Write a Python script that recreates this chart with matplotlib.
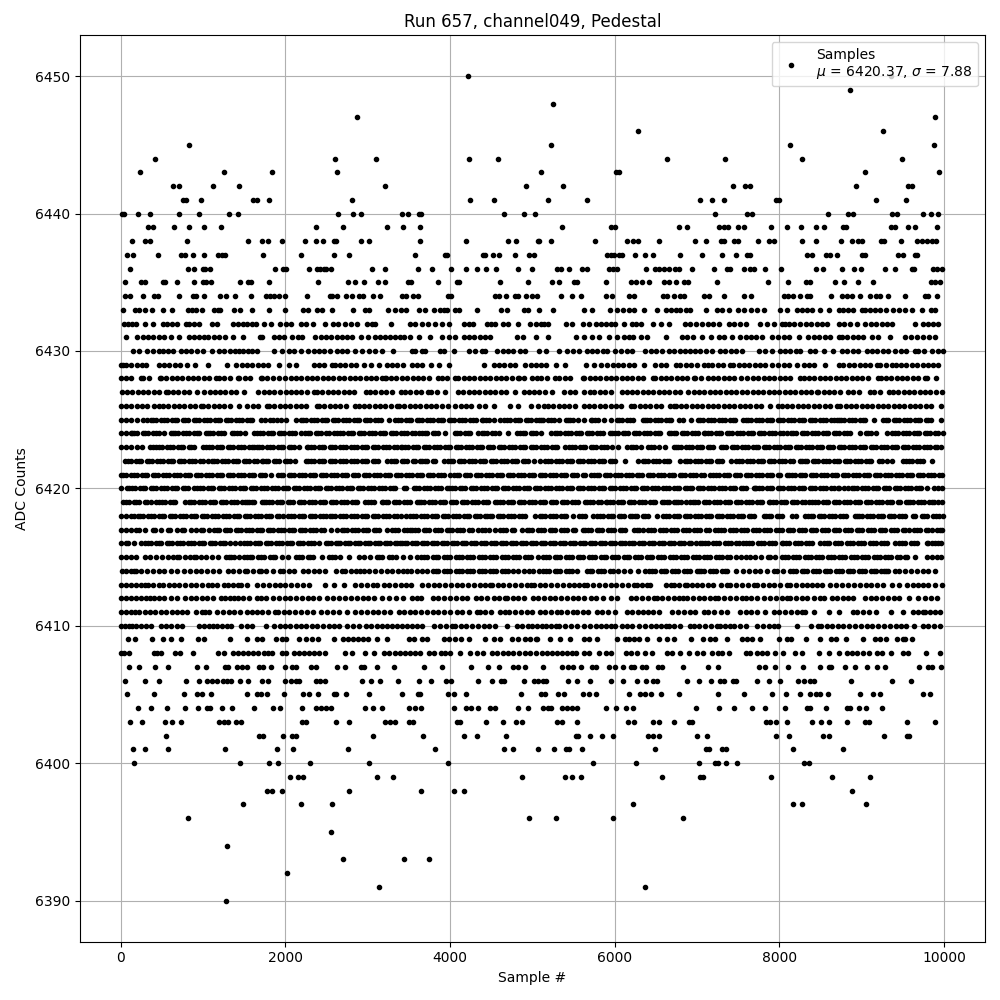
import matplotlib
matplotlib.use("Agg")
import matplotlib.pyplot as plt

# Sample numbers, one list per ADC count
adc_6390 = [1285]
adc_6391 = [3139, 6364]
adc_6392 = [2024]
adc_6393 = [2703, 3442, 3745]
adc_6394 = [1297]
adc_6395 = [2557]
adc_6396 = [812, 4957, 5285, 5976, 6836]
adc_6397 = [1491, 2194, 2570, 6218, 8169, 8279, 9054]
adc_6398 = [1782, 1842, 1963, 2775, 3648, 4052, 4169, 8885]
adc_6399 = [2060, 2157, 2218, 3115, 3309, 4872, 5394, 5483, 5588, 6570, 7042, 7075, 7903, 8642, 9103]
adc_6400 = [158, 1454, 1806, 1915, 2303, 3018, 3975, 5733, 6255, 7030, 7224, 7252, 7349, 7491, 8303, 8367]
adc_6401 = [145, 291, 570, 1273, 1903, 2097, 2763, 3818, 4654, 4763, 5066, 5261, 5406, 5447, 5600, 6485, 7115, 7143, 7305, 7357, 8169, 8775]
adc_6402 = [545, 1681, 1729, 1976, 2085, 2125, 3066, 3672, 4169, 4327, 4678, 5527, 5556, 5697, 5842, 5976, 6404, 6469, 6545, 7002, 7127, 7963, 8121, 8537, 8598, 9272, 9547, 9576]
adc_6403 = [109, 254, 533, 622, 731, 1196, 1256, 1309, 1406, 1458, 2198, 2246, 2618, 2775, 3216, 3277, 3329, 3499, 3555, 4085, 4125, 4436, 4642, 4800, 4872,
            5297, 5366, 5539, 6158, 6230, 6461, 6533, 6727, 6909, 6941, 7842, 7883, 7963, 8097, 8400, 8509, 8610, 8824, 9042, 9090, 9551, 9891]
adc_6404 = [206, 364, 558, 776, 945, 1054, 1087, 1236, 1357, 1624, 1854, 1939, 2206, 2376, 2428, 2497, 2549, 2973, 3066, 3175, 3499, 3571, 3648, 4052, 4194, 4258, 4339, 4489, 4549, 4824, 4945,
            5135, 5190, 5232, 5366, 5420, 5480, 5540, 5891, 6012, 6133, 6218, 6994, 7273, 7454, 7673, 7830, 8072, 8335, 8375, 8570, 8820, 8860, 8970, 9054, 9248]
adc_6405 = [73, 400, 764, 933, 986, 1091, 1531, 1660, 1701, 1782, 1988, 2218, 2291, 2400, 2590, 2618, 2731, 3018, 3418, 3612, 3640, 3975, 4052, 4194, 4860,
            5103, 5152, 5313, 5386, 5616, 5690, 5770, 6170, 6303, 6370, 6444, 6558, 6788, 7260, 7576, 7915, 8085, 8254, 8376, 8449, 8497, 8594, 8981, 9139, 9224, 9745, 9830]
adc_6406 = [48, 291, 461, 788, 957, 1054, 1115, 1175, 1240, 1297, 1345, 1454, 1551, 1721, 1794, 1992, 2072, 2133, 2165, 2376, 2420, 2485, 2933, 3042, 3147, 3369, 3624, 3769, 3951, 4016, 4339, 4509, 4622, 4662, 4896,
            5018, 5070, 5125, 5165, 5439, 5548, 5697, 5952, 6101, 6267, 6376, 6469, 6517, 6881, 7030, 7176, 7285, 7325, 7434, 7475, 7733, 7871, 8012, 8230, 8303, 8375, 8416, 8873, 9370, 9600]
adc_6407 = [97, 226, 412, 570, 933, 1042, 1265, 1305, 1418, 1479, 1539, 1681, 1729, 1830, 2000, 2085, 2125, 2307, 2376, 2630, 2727, 2925, 2957, 3115, 3321, 3684, 3903, 4258, 4460, 4590, 4771, 4832, 4913,
            5135, 5366, 5430, 5490, 5588, 5729, 5770, 5931, 6000, 6101, 6194, 6234, 6335, 6376, 6530, 6578, 6836, 7139, 7260, 7757, 7830, 7951, 8109, 8291, 8497, 8598, 8630, 8800, 8921, 9070, 9191, 9285, 9697, 9810, 9850, 9963]
adc_6408 = [4, 44, 105, 408, 445, 490, 659, 719, 873, 1188, 1256, 1370, 1430, 1490, 1550, 1610, 1670, 1735, 1790, 1834, 1955, 2012, 2105, 2165, 2225, 2285, 2345, 2405, 2480, 2719, 2812, 2973, 3078, 3204, 3265,
            3329, 3390, 3450, 3510, 3570, 3640, 3741, 3800, 3895, 3935, 4004, 4125, 4238, 4327, 4400, 4509, 4569, 4640, 4710, 4763, 4840, 4913, 4975, 5040, 5120, 5180, 5240, 5300, 5360, 5420, 5480, 5527,
            5628, 5690, 5810, 5891, 5952, 6133, 6195, 6275, 6364, 6456, 6638, 6700, 6800, 6900, 7002, 7070, 7184, 7250, 7310, 7386, 7596, 7648, 7730, 7790, 7850, 7950, 8050, 8185, 8275, 8477, 8606,
            8720, 8820, 8880, 8950, 9020, 9090, 9184, 9244, 9356, 9505, 9558, 9785, 9950]
adc_6409 = [85, 178, 376, 509, 610, 727, 945, 1006, 1333, 1539, 1660, 1713, 1883, 1963, 2004, 2170, 2254, 2320, 2400, 2594, 2703, 2760, 2820, 2880, 2940, 3010, 3115, 3236, 3499, 3560, 3660, 3720,
            3923, 3990, 4060, 4130, 4226, 4424, 4533, 4610, 4751, 4824, 4913, 4975, 5040, 5060, 5212, 5333, 5455, 5628, 5690, 5790, 6024, 6120, 6180, 6240, 6300, 6395, 6545, 6642, 6720, 6933, 7075, 7164, 7224,
            7370, 7547, 7610, 7670, 7770, 7992, 8093, 8145, 8323, 8497, 8626, 8690, 8812, 9018, 9163, 9224, 9297, 9426, 9500, 9527, 9616]
adc_6410 = [0, 50, 95, 135, 190, 250, 310, 370, 490, 550, 610, 680, 750, 955, 1010, 1070, 1125, 1175, 1235, 1290, 1335, 1465, 1530, 1600, 1770, 1860, 1940, 1995, 2060, 2125, 2190, 2250, 2320, 2390, 2460, 2530, 2590, 2650,
            2750, 2820, 2890, 2975, 3040, 3110, 3170, 3235, 3295, 3360, 3420, 3480, 3540, 3600, 3660, 3800, 3880, 3950, 4025, 4065, 4130, 4200, 4270, 4340, 4410, 4480, 4550, 4690, 4810, 4880, 4950, 4995, 5060, 5120, 5170,
            5225, 5290, 5330, 5400, 5470, 5540, 5630, 5700, 5770, 5830, 5900, 5950, 6000, 6090, 6150, 6210, 6290, 6375, 6440, 6500, 6560, 6620, 6660, 6720, 6800, 6920, 6960, 7030, 7100, 7170, 7240, 7280, 7340, 7400, 7450,
            7520, 7590, 7730, 7800, 7870, 7930, 7990, 8210, 8390, 8470, 8510, 8580, 8640, 8710, 8780, 8850, 8920, 8990, 9060, 9130, 9200, 9270, 9350, 9420, 9480, 9540, 9635, 9750, 9810, 9880, 9950]
adc_6411 = [0, 60, 120, 175, 225, 295, 355, 420, 490, 550, 620, 690, 750, 800, 920, 990, 1030, 1075, 1175, 1240, 1310, 1380, 1450, 1540, 1590, 1650, 1720, 1790, 1880, 1910, 1980, 2050, 2120, 2190, 2260, 2330, 2430,
            2510, 2580, 2650, 2750, 2850, 2920, 2990, 3060, 3130, 3200, 3275, 3375, 3440, 3510, 3580, 3650, 3720, 3790, 3860, 3930, 4000, 4085, 4145, 4235, 4325, 4365, 4430, 4500, 4610, 4670,
            4720, 4790, 4860, 4930, 5000, 5090, 5160, 5230, 5300, 5345, 5420, 5490, 5540, 5610, 5680, 5790, 5850, 5920, 6000, 6145, 6210, 6280, 6350, 6400, 6470, 6535,
            6700, 6770, 6840, 6910, 6980, 7080, 7140, 7210, 7290, 7365, 7520, 7590, 7660, 7730, 7830, 7930, 8000, 8070, 8140, 8210, 8275, 8315, 8425, 8605, 8730, 8890, 8950, 9020, 9085, 9175, 9355, 9500, 9630, 9690, 9750, 9770, 9830, 9890, 9950]
adc_6412 = [0, 65, 130, 190, 250, 310, 350, 410, 470, 530, 610, 690, 785, 850, 920, 985, 1050, 1120, 1215, 1265, 1330, 1380, 1420, 1490, 1560, 1660, 1700, 1770, 1850, 1920, 1990, 2060, 2130, 2200, 2270, 2330, 2415,
            2510, 2580, 2650, 2720, 2800, 2870, 2940, 3010, 3075, 3175, 3260, 3340, 3430, 3540, 3600, 3650, 3790, 3860, 3930, 4000, 4070, 4140, 4210, 4310, 4380, 4450, 4530, 4600, 4670, 4690, 4760, 4830, 4900, 5010,
            5075, 5140, 5210, 5280, 5350, 5420, 5490, 5560, 5630, 5710, 5770, 5860, 5950, 6025, 6195, 6260, 6330, 6400, 6480, 6510, 6580, 6650, 6720, 6780, 6830, 6880, 6950, 7020, 7090, 7160, 7220, 7250, 7330, 7405, 7480,
            7550, 7600, 7660, 7730, 7820, 7890, 7960, 8030, 8090, 8125, 8200, 8270, 8335, 8425, 8490, 8545, 8640, 8700, 8770, 8830, 8890, 9040, 9110, 9180, 9250, 9320, 9390, 9450, 9570, 9680, 9770, 9840, 9910]
adc_6413 = [5, 70, 130, 190, 250, 295, 330, 395, 460, 520, 590, 650, 710, 780, 850, 920, 990, 1060, 1115, 1175, 1255, 1300, 1360, 1420, 1460, 1540, 1660, 1730, 1800, 1870, 1930, 2000, 2070, 2140, 2210, 2285, 2480, 2590, 2710,
            2850, 2920, 2990, 3060, 3115, 3195, 3260, 3330, 3400, 3470, 3525, 3660, 3730, 3800, 3870, 3940, 4010, 4080, 4150, 4220, 4290, 4360, 4430, 4490, 4510, 4580, 4650, 4720, 4790, 4860, 4930, 4990,
            5020, 5090, 5160, 5230, 5300, 5370, 5440, 5510, 5570, 5630, 5670, 5740, 5810, 5880, 5950, 6020, 6090, 6160, 6230, 6270, 6335, 6390, 6435, 6620, 6680, 6720, 6780, 6860, 6880, 6940, 7000, 7060, 7130, 7200, 7290, 7365,
            7405, 7480, 7550, 7620, 7690, 7730, 7800, 7870, 7940, 8010, 8090, 8130, 8200, 8270, 8340, 8400, 8455, 8515, 8620, 8690, 8760, 8840, 8910, 8980, 9050, 9120, 9190, 9260, 9365, 9460, 9550, 9620, 9690, 9750, 9810, 9890, 9980]
adc_6414 = [10, 70, 120, 165, 185, 250, 320, 390, 460, 530, 610, 690, 770, 840, 910, 980, 1050, 1120, 1190, 1300, 1370, 1440, 1510, 1540, 1610, 1680, 1700, 1770, 1850, 1940, 1970, 2040, 2110, 2210, 2280, 2350, 2410, 2480,
            2610, 2690, 2730, 2800, 2860, 2910, 2950, 3020, 3090, 3160, 3230, 3300, 3370, 3430, 3480, 3530, 3600, 3660, 3720, 3790, 3860, 3930, 4000, 4070, 4140, 4210, 4280, 4350, 4420, 4490, 4560, 4630, 4700, 4770,
            4830, 4900, 4960, 5010, 5080, 5130, 5200, 5270, 5340, 5410, 5480, 5540, 5660, 5730, 5800, 5870, 5940, 6040, 6110, 6190, 6280, 6370, 6420, 6490, 6560, 6630, 6700, 6770, 6840, 6910, 7000, 7020, 7090, 7160, 7230, 7300, 7370, 7470,
            7560, 7630, 7700, 7770, 7850, 7930, 7970, 8050, 8130, 8200, 8270, 8340, 8410, 8480, 8550, 8620, 8690, 8760, 8830, 8900, 8970, 9040, 9110, 9180, 9240, 9300, 9320, 9410, 9460, 9530, 9600, 9670, 9740, 9810, 9890,
            3825, 3965, 4105, 4245, 4385, 4525, 4665, 6455, 6595, 6735, 6875, 7055, 7195, 7335, 8165, 8305, 8445, 8585, 8725, 8865, 9005, 9145, 9275, 5165, 5305, 5445, 5695, 5835, 5975]
adc_6415 = [0, 60, 125, 185, 295, 360, 430, 500, 570, 630, 690, 710, 780, 840, 890, 920, 975, 1040, 1110, 1180, 1280, 1310, 1380, 1440, 1500, 1530, 1600, 1670, 1740, 1810, 1880, 1960, 2035, 2130, 2200, 2270, 2340, 2450,
            2535, 2600, 2670, 2770, 2890, 2960, 3030, 3110, 3180, 3260, 3340, 3430, 3510, 3600, 3650, 3720, 3790, 3860, 3930, 4000, 4070, 4140, 4210, 4280, 4350, 4420, 4490, 4560, 4630, 4700, 4770, 4840, 4910, 4980, 5070,
            5130, 5200, 5270, 5340, 5410, 5480, 5550, 5620, 5690, 5760, 5830, 5900, 5970, 6040, 6110, 6180, 6250, 6320, 6390, 6460, 6530, 6600, 6670, 6740, 6810, 6880, 6950, 7020, 7090, 7160, 7230, 7300, 7370, 7470,
            7530, 7590, 7650, 7710, 7780, 7860, 7890, 7950, 8030, 8100, 8170, 8240, 8310, 8380, 8450, 8520, 8590, 8660, 8730, 8800, 8870, 8940, 9010, 9080, 9150, 9220, 9290, 9360, 9430, 9530, 9550, 9650, 9790, 9850, 9910, 9970,
            3685, 3825, 3965, 4105, 4245, 4385, 4525, 4665, 4805, 4945, 5165, 5305, 5445, 5585, 5725, 5865, 6005, 6145, 6285, 6425, 6565, 6705, 6845, 6985, 7125, 7265, 7405,
            8065, 8205, 8345, 8485, 8625, 8765, 8905, 9045, 9185, 9325, 9465, 1342, 1565, 1705, 1845, 2165, 2305, 2565, 3135, 3300]
adc_6416 = [0, 65, 85, 165, 245, 300, 365, 430, 495, 560, 625, 690, 755, 820, 885, 950, 1015, 1080, 1145, 1210, 1270, 1330, 1390, 1450, 1500, 1565, 1630, 1695, 1760, 1825, 1890, 1955, 2020, 2085, 2150, 2215, 2280, 2345, 2410,
            2495, 2550, 2610, 2670, 2730, 2790, 2850, 2910, 2970, 3030, 3090, 3150, 3210, 3270, 3330, 3390, 3420, 3480, 3540, 3600, 3660, 3720, 3780, 3840, 3900, 3960, 4020, 4080, 4140, 4200, 4260, 4320, 4380, 4440, 4500, 4560,
            4620, 4680, 4740, 4800, 4860, 4920, 4980, 5040, 5100, 5160, 5220, 5280, 5340, 5400, 5460, 5520, 5580, 5640, 5700, 5760, 5820, 5880, 5940, 6000, 6060, 6120, 6180, 6240, 6300, 6360, 6420, 6480, 6540, 6600, 6660, 6720, 6780, 6840, 6900,
            6930, 6990, 7040, 7060, 7130, 7200, 7270, 7340, 7410, 7480, 7560, 7600, 7670, 7740, 7810, 7880, 7950, 8030, 8050, 8120, 8190, 8260, 8330, 8400, 8500, 8540, 8610, 8680, 8750, 8820, 8890, 8960, 9030, 9100, 9170, 9240, 9310, 9410,
            9460, 9530, 9600, 9670, 9790, 9810, 9890, 9970,
            332, 462, 592, 722, 852, 982, 1112, 1242, 1532, 1662, 1792, 1922, 2052, 2182, 2312, 2522, 2640, 2760, 2880, 3000, 3120, 3240, 3360, 3450, 3570, 3690, 3810, 3930, 4050, 4170, 4290, 4410, 4530, 4650, 4770, 4890,
            5010, 5130, 5250, 5370, 5490, 5610, 5730, 5850, 5970, 6090, 6210, 6330, 6450, 6570, 6690, 6810, 7095, 7235, 7375, 7515, 7635, 7775, 7915, 8085, 8225, 8365, 8575, 8715, 8855, 8995, 9135, 9275, 9495, 9635, 9850, 9930]
adc_6417 = [0, 60, 120, 185, 225, 300, 390, 415, 490, 580, 600, 680, 750, 770, 850, 910, 970, 1000, 1075, 1135, 1200, 1265, 1330, 1395, 1460, 1525, 1590, 1655, 1720, 1785, 1850, 1915, 1980, 2045, 2110, 2175, 2240, 2305, 2370, 2435, 2550, 2625,
            2685, 2750, 2815, 2880, 2945, 3010, 3075, 3140, 3240, 3300, 3370, 3440, 3510, 3540, 3610, 3680, 3750, 3820, 3890, 3960, 4020, 4090, 4160, 4230, 4345, 4395, 4470, 4550, 4610, 4680, 4750, 4880,
            4930, 5000, 5070, 5140, 5210, 5280, 5350, 5420, 5490, 5610, 5640, 5710, 5780, 5850, 5920, 5990, 6060, 6130, 6240, 6270, 6340, 6410, 6480, 6550, 6620, 6690, 6760, 6830, 6900, 6970, 7040, 7110, 7220,
            7260, 7330, 7400, 7470, 7540, 7610, 7680, 7750, 7820, 7890, 7960, 8030, 8100, 8170, 8240, 8310, 8380, 8450, 8520, 8590, 8660, 8730, 8800, 8870, 8940, 9010, 9080, 9150, 9220, 9290, 9360, 9430, 9500, 9570, 9640, 9710, 9780, 9850, 9920, 9980,
            1167, 1297, 1427, 1557, 1687, 1817, 1947, 2077, 2207, 2337, 2467, 2717, 2847, 2977, 3107, 3332, 3472, 3572, 3712, 3852, 3992, 4122, 4262, 4427, 4642, 4782, 4962, 5102, 5242, 5382, 5522, 5672, 5812, 5952, 6092,
            6302, 6442, 6582, 6722, 6862, 7002, 7142, 7292, 7432, 7572, 7712, 7852, 7992, 8132, 8272, 8412, 8552, 8692, 8832, 8972, 9112, 9252, 9392, 9532, 9672, 9812, 9952]
adc_6418 = [0, 60, 120, 165, 205, 270, 335, 400, 465, 530, 595, 660, 725, 790, 855, 920, 985, 1050, 1115, 1180, 1245, 1310, 1375, 1440, 1505, 1570, 1635, 1700, 1765, 1830, 1895, 1970, 2035, 2100, 2165, 2230, 2295, 2360, 2425, 2490, 2540, 2600,
            2670, 2735, 2800, 2865, 2930, 2995, 3060, 3125, 3190, 3255, 3320, 3410, 3470, 3520, 3585, 3650, 3715, 3780, 3845, 3910, 3975, 4040, 4105, 4170, 4235, 4300, 4365, 4430, 4450, 4515, 4580, 4645, 4710, 4775, 4840, 4910, 5030,
            5090, 5155, 5220, 5285, 5350, 5415, 5500, 5570, 5640, 5740, 5790, 5855, 5920, 5985, 6050, 6115, 6190, 6210, 6275, 6340, 6405, 6520, 6590, 6655, 6720, 6785, 6850, 6915, 6980, 7045, 7110, 7175, 7240, 7305, 7370, 7435, 7500, 7565, 7630, 7695, 7810,
            7840, 7905, 7970, 8035, 8150, 8200, 8310, 8350, 8415, 8480, 8545, 8610, 8675, 8740, 8805, 8920, 8940, 9005, 9070, 9135, 9200, 9265, 9330, 9395, 9460, 9525, 9630, 9650, 9730, 9800, 9870, 9935, 9985,
            237, 367, 497, 627, 757, 887, 1017, 1147, 1277, 1407, 1537, 1667, 1797, 1927, 2067, 2197, 2327, 2457, 2567, 2702, 2832, 2962, 3092, 3222, 3352, 3552, 3682, 3812, 3942, 4072, 4202, 4332, 4482, 4612, 4742, 4872,
            5122, 5252, 5382, 5602, 5822, 5952, 6082, 6242, 6372, 6622, 6752, 6882, 7012, 7142, 7272, 7402, 7532, 7662, 7872, 8002, 8382, 8512, 8642, 8772, 8972, 9102, 9232, 9362, 9492, 9762, 9902]
adc_6419 = [30, 95, 160, 225, 290, 370, 430, 470, 535, 600, 665, 780, 825, 890, 955, 1020, 1085, 1150, 1215, 1280, 1345, 1410, 1475, 1540, 1560, 1625, 1740, 1770, 1835, 1900, 1965, 2030, 2095, 2160, 2225, 2290, 2355, 2420, 2485, 2550, 2615, 2680, 2745, 2810, 2875, 2970,
            3010, 3075, 3170, 3185, 3250, 3315, 3380, 3445, 3510, 3600, 3620, 3685, 3750, 3815, 3880, 3945, 4010, 4075, 4140, 4205, 4270, 4335, 4400, 4465, 4550, 4575, 4640, 4705, 4770, 4835, 4900, 4965, 5030, 5095, 5160, 5225, 5290, 5355, 5420, 5485, 5550, 5640,
            5670, 5735, 5800, 5890, 5910, 5975, 6040, 6105, 6170, 6235, 6300, 6365, 6430, 6495, 6570, 6600, 6665, 6720, 6740, 6805, 6870, 6920, 6950, 7015, 7080, 7145, 7210, 7275, 7340, 7405, 7470, 7535, 7600, 7665, 7730, 7795, 7870,
            7890, 7955, 8020, 8085, 8150, 8215, 8280, 8360, 8400, 8465, 8530, 8595, 8660, 8725, 8790, 8855, 8920, 8985, 9050, 9115, 9180, 9245, 9310, 9375, 9440, 9540, 9560, 9625, 9690, 9755, 9820, 9885, 9980,
            62, 192, 322, 502, 632, 857, 987, 1117, 1247, 1377, 1507, 1592, 1722, 1802, 1932, 2062, 2192, 2322, 2452, 2582, 2712, 2842, 3042, 3217, 3347, 3477, 3652, 3782, 3912, 4042, 4172, 4302, 4432, 4607, 4737, 4867,
            4997, 5127, 5257, 5387, 5517, 5702, 5832, 5942, 6072, 6202, 6332, 6462, 6632, 6772, 6982, 7112, 7242, 7372, 7502, 7632, 7762, 7922, 8052, 8182, 8312, 8432, 8562, 8692, 8822, 8952, 9082, 9212, 9342, 9472, 9592, 9722, 9852, 9930]
adc_6420 = [0, 80, 105, 170, 235, 300, 365, 430, 495, 560, 625, 690, 755, 820, 893, 930, 995, 1060, 1125, 1190, 1255, 1320, 1385, 1450, 1515, 1580, 1645, 1710, 1775, 1840, 1905, 1970, 2035, 2100, 2165, 2230, 2295, 2360, 2425, 2490, 2555, 2620, 2685, 2750, 2815, 2880, 2945, 3010, 3075, 3140, 3205, 3270, 3335, 3440, 3470,
            3560, 3625, 3690, 3755, 3820, 3885, 3960, 3990, 4055, 4120, 4185, 4250, 4315, 4380, 4445, 4510, 4575, 4640, 4705, 4770, 4835, 4900, 4965, 5030, 5095, 5160, 5225, 5290, 5355, 5420, 5485, 5550, 5615, 5680, 5745, 5810, 5875, 5940, 6005, 6070, 6135, 6200, 6265, 6330, 6395, 6460, 6525, 6590, 6655, 6720, 6785, 6860,
            6880, 6945, 7010, 7075, 7140, 7205, 7270, 7335, 7400, 7465, 7530, 7595, 7710, 7720, 7785, 7850, 7915, 7980, 8045, 8110, 8175, 8240, 8305, 8370, 8435, 8500, 8565, 8630, 8710, 8730, 8790, 8840, 8880, 8945, 9010, 9075, 9140, 9205, 9270, 9335, 9400, 9465, 9530, 9595, 9660, 9725, 9790, 9880, 9930, 9980,
            137, 267, 397, 527, 657, 787, 962, 1092, 1222, 1352, 1482, 1612, 1742, 1872, 2002, 2132, 2262, 2392, 2522, 2652, 2782, 2912, 3042, 3172, 3302, 3592, 3722, 3852, 4022, 4152, 4282, 4412, 4542, 4672, 4802, 4932,
            5062, 5192, 5322, 5452, 5582, 5712, 5842, 5972, 6102, 6232, 6362, 6492, 6622, 6752, 6912, 7042, 7172, 7302, 7432, 7562, 7692, 7752, 7882, 8012, 8142, 8272, 8402, 8532, 8662, 8912, 9042, 9172, 9302, 9432, 9562, 9692]
adc_6421 = [0, 65, 130, 195, 260, 325, 390, 455, 520, 585, 650, 715, 780, 845, 910, 975, 1040, 1105, 1170, 1235, 1300, 1365, 1430, 1495, 1560, 1625, 1690, 1755, 1820, 1910, 1975, 2040, 2105, 2170, 2235, 2300, 2365, 2430, 2495, 2560, 2625, 2690, 2755, 2820, 2885, 2950, 3015, 3080, 3145, 3210, 3275, 3340, 3405, 3470, 3535, 3600, 3665, 3730, 3795, 3860, 3925, 4000,
            4050, 4115, 4180, 4245, 4310, 4375, 4440, 4505, 4570, 4635, 4700, 4765, 4830, 4895, 4960, 5025, 5090, 5155, 5220, 5285, 5350, 5415, 5480, 5545, 5610, 5710, 5750, 5815, 5880, 5945, 6010, 6075, 6140, 6205, 6270, 6335, 6400, 6465, 6530, 6595, 6660, 6725, 6790, 6855, 6920, 6985, 7050, 7160,
            7200, 7265, 7330, 7395, 7460, 7525, 7590, 7655, 7720, 7785, 7850, 7915, 7980, 8090, 8120, 8185, 8250, 8315, 8380, 8445, 8510, 8575, 8640, 8705, 8770, 8835, 8900, 8965, 9030, 9095, 9160, 9225, 9290, 9355, 9420, 9485, 9550, 9615, 9680, 9745, 9810, 9875, 9940, 9980,
            32, 162, 292, 422, 552, 682, 812, 942, 1072, 1202, 1332, 1462, 1592, 1722, 1942, 2072, 2202, 2332, 2462, 2592, 2722, 2852, 2982, 3112, 3242, 3372, 3502, 3632, 3762, 3892, 4082, 4212, 4342, 4472, 4602, 4732, 4862, 4992,
            5122, 5252, 5382, 5512, 5642, 5782, 5912, 6042, 6172, 6302, 6432, 6562, 6692, 6822, 6952, 7082, 7232, 7362, 7492, 7622, 7752, 7882, 8012, 8152, 8282, 8412, 8542, 8672, 8802, 8932, 9062, 9192, 9322, 9452, 9582, 9712, 9842]
adc_6422 = [55, 120, 185, 250, 315, 380, 445, 510, 575, 640, 705, 770, 835, 900, 965, 1055, 1105, 1170, 1235, 1300, 1365, 1430, 1495, 1560, 1625, 1715, 1730, 1795, 1860, 1925, 1990, 2055, 2120, 2245, 2280, 2345, 2410, 2475, 2540, 2605, 2670, 2735, 2800, 2865, 2930, 2995, 3060, 3125, 3235,
            3285, 3350, 3415, 3480, 3545, 3630, 3660, 3725, 3790, 3925, 3975, 4040, 4105, 4170, 4235, 4300, 4365, 4430, 4495, 4560, 4625, 4690, 4755, 4820, 4885, 4950, 5020, 5090, 5160, 5225, 5290, 5355, 5420, 5485, 5550, 5615, 5680, 5745, 5810, 5875, 5940, 6005, 6130,
            6280, 6340, 6405, 6470, 6535, 6600, 6665, 6790, 6850, 6915, 6980, 7045, 7110, 7175, 7240, 7305, 7410, 7480, 7545, 7610, 7675, 7740, 7805, 7870, 7935, 8000, 8065, 8130, 8255, 8275, 8340, 8405, 8470, 8535, 8600, 8665, 8730, 8795, 8860, 8925, 8990, 9055, 9120, 9215,
            9245, 9310, 9375, 9505, 9545, 9610, 9675, 9740, 9860,
            87, 217, 347, 477, 607, 737, 867, 997, 1137, 1267, 1397, 1527, 1657, 1762, 1892, 2022, 2312, 2442, 2572, 2702, 2832, 2962, 3092, 3317, 3447, 3577, 3692, 3822, 4007, 4137, 4267, 4397, 4527, 4657, 4787, 4917,
            5190, 5322, 5452, 5582, 5712, 5842, 5972, 6372, 6502, 6632, 6882, 7012, 7142, 7272, 7512, 7642, 7772, 7902, 8032, 8162, 8307, 8437, 8567, 8697, 8827, 8957, 9087, 9577, 9707]
adc_6423 = [0, 65, 130, 195, 260, 355, 395, 435, 500, 565, 630, 695, 760, 825, 890, 1000, 1040, 1105, 1170, 1235, 1300, 1365, 1430, 1495, 1560, 1620, 1650, 1715, 1780, 1845, 1910, 1975, 2040, 2105, 2170, 2265, 2280, 2345, 2410, 2475, 2540, 2605, 2670, 2735, 2800, 2865, 2930, 2995, 3060, 3125, 3190, 3255, 3320, 3400,
            3420, 3485, 3550, 3615, 3680, 3745, 3810, 3875, 3940, 4005, 4070, 4135, 4200, 4265, 4330, 4395, 4460, 4525, 4590, 4655, 4720, 4785, 4850, 4915, 4980, 5045, 5110, 5175, 5240, 5305, 5400, 5450, 5515, 5580, 5645, 5710, 5775, 5840, 5905, 5970, 6035, 6150,
            6195, 6260, 6325, 6400, 6445, 6480, 6545, 6610, 6720, 6740, 6805, 6870, 6935, 7000, 7065, 7130, 7200, 7290, 7355, 7420, 7485, 7550, 7615, 7680, 7745, 7810, 7875, 7940, 8005, 8070, 8135, 8200, 8265, 8330, 8395, 8460, 8525, 8590, 8655, 8720, 8785, 8850, 8915, 8980, 9045, 9110, 9175, 9240, 9305, 9370, 9435, 9500, 9565, 9630, 9695, 9760, 9825, 9890, 9960,
            467, 597, 727, 857, 1072, 1202, 1332, 1462, 1592, 1682, 1812, 1942, 2072, 2312, 2442, 2572, 2702, 2832, 2962, 3092, 3222, 3352, 3452, 3582, 3712, 3842, 3972, 4102, 4232, 4362, 4492, 4622, 4752, 4882, 5012, 5142, 5272,
            5482, 5612, 5742, 5872, 6227, 6772, 6902, 7032, 7162, 7322, 7452, 7582, 7712, 7842, 7972, 8102, 8232, 8362, 8492, 8622, 8752, 8882, 9012, 9142, 9272, 9402, 9532, 9662, 9792, 9922]
adc_6424 = [0, 60, 125, 135, 200, 265, 330, 395, 460, 525, 610, 630, 695, 760, 825, 890, 955, 1035, 1055, 1120, 1185, 1250, 1350, 1380, 1445, 1510, 1620, 1660, 1725, 1790, 1855, 1920, 1985, 2050, 2115, 2185, 2240, 2305, 2370, 2435, 2500, 2590, 2630, 2695, 2760, 2825, 2890, 2955, 3020, 3085, 3150, 3215, 3280, 3345, 3410, 3475, 3540, 3620, 3660, 3725, 3790, 3855, 3940,
            4055, 4120, 4185, 4245, 4345, 4385, 4450, 4515, 4595, 4705, 4810, 4850, 4915, 4980, 5045, 5110, 5230, 5270, 5335, 5400, 5465, 5530, 5595, 5660, 5725, 5790, 5855, 5945, 5970, 6035, 6100, 6165, 6230, 6295, 6360, 6425, 6490, 6555, 6660, 6685, 6750, 6815, 6880, 6945, 7010, 7080,
            7100, 7165, 7230, 7295, 7360, 7425, 7490, 7555, 7620, 7685, 7750, 7815, 7880, 7945, 8010, 8090, 8140, 8205, 8270, 8335, 8400, 8465, 8530, 8595, 8660, 8725, 8790, 8855, 8980, 9050, 9115, 9180, 9305, 9375, 9440, 9505, 9570, 9635, 9700, 9765, 9830, 9895, 9985,
            165, 295, 425, 662, 792, 922, 1087, 1217, 1412, 1692, 1822, 1952, 2082, 2272, 2402, 2532, 2662, 2792, 2922, 3052, 3182, 3312, 3442, 3572, 3692, 3822, 4087, 4217, 4417, 4547, 4882, 5012, 5302, 5432, 5562, 5692, 5822,
            6002, 6132, 6262, 6392, 6522, 6717, 6847, 6977, 7132, 7262, 7392, 7522, 7652, 7782, 7912, 8042, 8172, 8302, 8432, 8562, 8692, 8822, 9082, 9407, 9537, 9667, 9797, 9927]
adc_6425 = [0, 65, 130, 195, 265, 325, 365, 430, 495, 560, 625, 690, 755, 820, 885, 950, 1015, 1080, 1145, 1210, 1275, 1340, 1405, 1470, 1535, 1600, 1710, 1750, 1815, 1900, 1945, 2010, 2135, 2185, 2250, 2315, 2380, 2445, 2510, 2575, 2640, 2705, 2770, 2835, 2900, 2965, 3030, 3095, 3160, 3265,
            3335, 3400, 3465, 3530, 3595, 3660, 3725, 3790, 3855, 3920, 3985, 4050, 4115, 4180, 4245, 4310, 4385, 4405, 4470, 4535, 4610, 4660, 4725, 4790, 4855, 4920, 4985, 5050, 5110, 5130, 5195, 5260, 5325, 5410, 5430, 5495, 5560, 5625, 5710, 5730, 5795, 5865,
            5960, 6025, 6090, 6155, 6220, 6345, 6365, 6430, 6495, 6560, 6625, 6690, 6780, 6825, 6930, 7010, 7075, 7140, 7205, 7270, 7335, 7400, 7465, 7560, 7590, 7655, 7720, 7785, 7850, 7915, 7980, 8045, 8110, 8175, 8240, 8305, 8370, 8435, 8500, 8565, 8630, 8700,
            8720, 8785, 8850, 8915, 8980, 9045, 9155, 9260, 9325, 9390, 9455, 9520, 9585, 9650, 9715, 9780, 9845, 9960,
            397, 527, 657, 787, 917, 1047, 1177, 1307, 1437, 1567, 1847, 2217, 2347, 2477, 2607, 2737, 2867, 2997, 3127, 3367, 3497, 3627, 3757, 3887, 4017, 4147, 4277, 4437, 4692, 4822, 4952, 5082, 5227, 5462, 5762,
            6057, 6187, 6397, 6527, 6657, 7042, 7172, 7302, 7432, 7622, 7752, 7882, 8012, 8142, 8272, 8402, 8532, 8662, 8752, 8882, 9012, 9292, 9422, 9552, 9682, 9812]
adc_6426 = [0, 65, 130, 195, 260, 325, 410, 470, 515, 580, 645, 710, 775, 840, 905, 975, 1000, 1065, 1130, 1195, 1260, 1325, 1440, 1540, 1605, 1670, 1780, 1800, 1865, 1930, 1995, 2060, 2125, 2190, 2255, 2390, 2410, 2475, 2540, 2605, 2670, 2735, 2850, 2890, 2955, 3020, 3085, 3150, 3215, 3280, 3360,
            3380, 3445, 3510, 3575, 3640, 3705, 3770, 3835, 3900, 3975, 4065, 4130, 4195, 4260, 4350, 4430, 4530, 4730, 4830, 4990, 5070, 5140, 5190, 5255, 5320, 5385, 5450, 5515, 5625, 5690, 5755, 5820, 5885, 5950, 6015, 6080, 6200, 6240, 6305, 6370, 6435, 6500, 6565, 6670, 6720,
            6740, 6805, 6870, 6935, 7000, 7065, 7130, 7195, 7260, 7325, 7390, 7455, 7520, 7585, 7650, 7720, 7780, 7890, 7980, 8030, 8095, 8160, 8225, 8290, 8355, 8420, 8485, 8550, 8615, 8700, 8740, 8805, 8870, 8935, 9000, 9065, 9130, 9195, 9260, 9325, 9390, 9455, 9520, 9585, 9650, 9715, 9780, 9845, 9960]
adc_6427 = [10, 75, 140, 205, 270, 335, 400, 465, 555, 570, 635, 700, 765, 830, 930, 1015, 1080, 1145, 1205, 1270, 1335, 1400, 1500, 1670, 1735, 1800, 1865, 1930, 2010, 2065, 2130, 2195, 2260, 2345, 2385, 2450, 2515, 2580, 2645, 2710, 2775, 2840, 2980, 3030, 3095, 3160, 3225, 3290, 3400, 3455,
            3520, 3585, 3650, 3735, 3770, 3840, 3935, 4095, 4160, 4225, 4290, 4355, 4420, 4485, 4550, 4615, 4680, 4795, 4895, 4955, 5020, 5085, 5150, 5240, 5390, 5455, 5520, 5625, 5705, 5755, 5820, 5885, 5950, 6095, 6145, 6210, 6275, 6340, 6405, 6470, 6535, 6600, 6665, 6730, 6795, 6890,
            6960, 7025, 7090, 7155, 7225, 7285, 7350, 7415, 7480, 7545, 7610, 7675, 7740, 7805, 7870, 7935, 8000, 8065, 8130, 8195, 8260, 8325, 8390, 8455, 8475, 8540, 8605, 8670, 8735, 8840, 8900, 8965, 9100, 9155, 9220, 9330, 9380, 9445, 9510, 9575, 9640, 9705, 9770, 9835, 9900, 9980]
adc_6428 = [0, 65, 130, 245, 275, 340, 475, 490, 555, 620, 685, 750, 815, 880, 945, 1010, 1075, 1155, 1195, 1260, 1325, 1420, 1440, 1505, 1570, 1700, 1715, 1780, 1845, 1925, 1995, 2065, 2130, 2195, 2260, 2325, 2390, 2455, 2520, 2585, 2650, 2715, 2780, 2845, 2910, 2975, 3040, 3105, 3170, 3210, 3220, 3285, 3350, 3415, 3480, 3545, 3610, 3675, 3740, 3855,
            3900, 3965, 4065, 4095, 4165, 4230, 4295, 4360, 4425, 4490, 4555, 4620, 4685, 4750, 4825, 4840, 4905, 4995, 5055, 5110, 5175, 5270, 5330, 5395, 5460, 5610, 5630, 5695, 5760, 5825, 5890, 5955, 6020, 6085, 6150, 6215, 6280, 6345, 6470, 6495, 6560, 6625, 6690, 6755, 6820, 6885, 6960,
            6980, 7045, 7135, 7195, 7260, 7325, 7390, 7455, 7535, 7610, 7680, 7745, 7810, 7875, 7940, 8005, 8070, 8135, 8255, 8295, 8360, 8425, 8490, 8555, 8620, 8685, 8750, 8815, 8880, 8945, 9010, 9075, 9205, 9230, 9295, 9360, 9425, 9490, 9555, 9620, 9685, 9770, 9790, 9900]
adc_6429 = [0, 25, 65, 130, 195, 260, 305, 460, 525, 590, 655, 720, 810, 900, 1065, 1290, 1405, 1470, 1535, 1600, 1665, 1730, 1795, 1925, 2045, 2125, 2345, 2410, 2475, 2565, 2600, 2665, 2730, 2795, 2860, 2955, 3045, 3135, 3235, 3295, 3360, 3425, 3540, 3600, 3665, 3765, 3870, 3990, 4415, 4530, 4595, 4660, 4725, 4790, 4910, 4990,
            5040, 5105, 5170, 5285, 5400, 5650, 5745, 5830, 5910, 5975, 6040, 6105, 6170, 6235, 6355, 6495, 6560, 6625, 6750, 6800, 6865, 6930, 6995, 7080, 7135, 7185, 7250, 7315, 7405, 7440, 7505, 7570, 7635, 7700, 7765, 7830, 7910,
            7990, 8055, 8120, 8215, 8295, 8360, 8425, 8560, 8730, 8780, 8845, 8910, 8975, 9040, 9105, 9185, 9225, 9300, 9365, 9415, 9480, 9545, 9610, 9675, 9740, 9805, 9870, 9930]
adc_6430 = [145, 225, 320, 390, 460, 520, 570, 640, 730, 795, 860, 925, 995, 1110, 1195, 1260, 1325, 1390, 1440, 1480, 1545, 1600, 1660, 1860, 1955, 2045, 2105, 2185, 2280, 2345, 2410, 2475, 2540, 2630, 2690, 2755, 2850, 2930, 3015, 3095, 3175, 3310, 3540, 3580, 3660, 3700, 3880, 3930, 4050, 4225, 4300, 4390, 4430, 4570,
            4640, 4705, 4770, 4850, 4910, 5085, 5165, 5325, 5420, 5490, 5570, 5660, 5725, 5790, 5855, 5910, 6000, 6075, 6155, 6215, 6375, 6440, 6505, 6580, 6660, 6725, 6790, 6855, 6920, 6980, 7040, 7110, 7185, 7280, 7345, 7410, 7475, 7550, 7750, 7830, 7910,
            8010, 8075, 8135, 8200, 8255, 8375, 8440, 8540, 8650, 8760, 8825, 8890, 8960, 9060, 9125, 9190, 9255, 9320, 9405, 9475, 9540, 9650, 9690, 9755, 9850, 9930, 9985]
adc_6431 = [65, 195, 265, 330, 395, 465, 530, 610, 705, 825, 890, 955, 1015, 1065, 1135, 1200, 1265, 1360, 1490, 1695, 1720, 1860, 1925, 1985, 2085, 2150, 2205, 2355, 2430, 2495, 2560, 2625, 2690, 2750, 2815, 2915, 3005, 3085, 3155, 3215, 3275, 3335, 3390, 3440, 3515, 3625, 3760, 3905, 3985, 4065,
            4165, 4230, 4295, 4360, 4425, 4490, 4810, 4885, 5040, 5190, 5530, 5630, 5730, 5810, 5930, 6030, 6115, 6175, 6225, 6315, 6395, 6630, 6820, 6885, 6950, 7060, 7165, 7265, 7325, 7425, 7525, 7590, 7655, 7720, 7785, 7910,
            7990, 8055, 8120, 8235, 8355, 8420, 8485, 8550, 8615, 8720, 8760, 8825, 8890, 8955, 9020, 9125, 9205, 9345, 9525, 9600, 9670, 9750, 9815, 9890]
adc_6432 = [45, 90, 140, 185, 290, 390, 510, 560, 620, 690, 790, 830, 895, 955, 1105, 1175, 1360, 1420, 1480, 1540, 1600, 1640, 1745, 1820, 1940, 2010, 2065, 2185, 2255, 2340, 2480, 2580, 2640, 2730, 2800, 2870, 2995, 3050, 3095, 3285, 3520, 3580, 3660, 3730, 3820, 3900, 3985,
            4165, 4225, 4285, 4450, 4500, 4550, 4650, 4710, 4825, 4975, 5040, 5100, 5140, 5185, 5405, 5485, 5610, 5690, 5770, 5830, 5890, 5950, 6010, 6115, 6215, 6265, 6315, 6470, 6560, 6660, 6860, 6920, 6990, 7060, 7130, 7200, 7265, 7385, 7450, 7520, 7590, 7770, 7850, 7930,
            8030, 8070, 8115, 8180, 8250, 8320, 8390, 8460, 8520, 8575, 8720, 8790, 8860, 8940, 9040, 9110, 9180, 9250, 9310, 9365, 9650, 9750, 9810, 9870, 9930]
adc_6433 = [24, 170, 218, 291, 376, 509, 618, 812, 861, 909, 982, 1139, 1188, 1212, 1382, 1454, 1600, 1806, 2000, 2218, 2279, 2388, 2448, 2570, 2824, 2969, 3018, 3248, 3333, 3406, 3466, 3624, 3701, 3806, 3878, 3927, 3963, 4065, 4109, 4331, 4618, 4691, 4896, 4945,
            5083, 5249, 5628, 5730, 5943, 6032, 6100, 6170, 6240, 6355, 6517, 6618, 6680, 6740, 6800, 6870, 6921, 7115, 7244, 7300, 7386, 7495, 7567, 7656, 7729, 7810, 8012, 8093, 8214, 8280, 8340, 8400, 8500, 8598,
            8720, 8780, 8840, 8900, 9002, 9042, 9100, 9160, 9220, 9300, 9380, 9460, 9530, 9608, 9733, 9838, 9891]
adc_6434 = [48, 109, 267, 400, 448, 703, 873, 913, 1018, 1212, 1285, 1394, 1588, 1770, 1818, 1866, 1927, 2000, 2267, 2545, 2570, 2630, 2739, 2812, 2897, 2945, 3067, 3151, 3418, 3466, 3551, 3612, 3975, 4012, 4545, 4593, 4679, 4787, 4824, 4921, 4993, 5054,
            5346, 5479, 5588, 5895, 5972, 6174, 6234, 6590, 6640, 6719, 6800, 6840, 7083, 7143, 7333, 7576, 7656, 8052, 8110, 8170, 8254, 8335, 8376, 8630, 8759, 8820, 8880, 8980, 9103, 9170, 9224, 9321, 9527, 9769, 9810, 9919]
adc_6435 = [48, 242, 291, 509, 533, 679, 885, 994, 1042, 1103, 1454, 1551, 1580, 1806, 2400, 2763, 2848, 2957, 3127, 3212, 3490, 3527, 3854, 4089, 4113, 4606, 4945,
            5245, 5325, 5507, 5539, 5891, 6194, 6260, 6330, 6416, 6598, 6659, 6751, 6840, 6893, 7248, 7866, 8109, 8327, 8376, 8674, 8788, 8957, 9135, 9838, 9890, 9951]
adc_6436 = [109, 812, 889, 994, 1026, 1079, 1879, 1972, 2012, 2291, 2388, 2416, 2468, 2497, 2557, 3054, 3212, 3612, 3781, 4012, 4194, 4327, 4436, 4557, 4824, 4993,
            5297, 5346, 5442, 5608, 5669, 5931, 5985, 6032, 6376, 6485, 6545, 6600, 6660, 6739, 6788, 6945, 7204, 7366, 7406, 7576, 7640, 7689, 7830, 8024, 8448, 8529, 8767, 8909, 8994, 9285, 9406, 9608, 9636, 9862, 9920, 9971]
adc_6437 = [73, 145, 448, 727, 776, 873, 1018, 1176, 1236, 1265, 1733, 2194, 2594, 2775, 3575, 3935, 3959, 4400, 4424, 4521, 4593, 4787, 4957, 5018,
            5911, 5950, 5990, 6050, 6093, 6242, 6364, 6461, 6800, 7067, 7309, 7479, 7608, 7648, 8335, 8396, 8569, 8618, 8707, 9002, 9042, 9446, 9499, 9648, 9677]
adc_6438 = [133, 299, 351, 800, 1551, 1717, 1786, 1963, 2242, 2376, 2460, 2590, 2618, 2921, 3018, 3636, 4194, 4703, 4800, 5066,
            5079, 5224, 5758, 6145, 6218, 6279, 6545, 6982, 7115, 7297, 7333, 7454, 7503, 7745, 7879, 7939, 8279, 8448, 8751, 8880, 8960, 9002, 9236, 9272, 9478, 9673, 9730, 9790, 9855, 9902]
adc_6439 = [327, 396, 642, 824, 1006, 1224, 2376, 2703, 3236, 3430, 3636, 5358, 5952, 6000, 6788, 6885, 7273, 7325, 7374, 7503, 7576, 7903, 8097, 8266, 8448, 8545, 8771, 8812, 9357, 9402, 9563, 9648, 9915]
adc_6440 = [16, 40, 206, 360, 703, 957, 1321, 1430, 2642, 2824, 2921, 3418, 3490, 3628, 3652, 4654, 4896, 5030, 7224, 7608, 7673, 8594, 8836, 8897, 9369, 9430, 9745, 9842, 9927]
adc_6441 = [755, 792, 970, 1608, 1660, 1806, 2812, 4242, 4533, 5188, 5661, 7042, 7188, 7333, 7963, 8000, 9175, 9539]
adc_6442 = [630, 703, 1127, 1442, 3212, 4921, 5370, 7442, 7588, 7648, 8933, 9567, 9608]
adc_6443 = [230, 1260, 1842, 2630, 5103, 6012, 6052, 9042, 9939]
adc_6444 = [412, 2606, 3103, 4230, 4581, 6642, 7345, 8279, 9491]
adc_6445 = [824, 5224, 8133, 9878]
adc_6446 = [6279, 9260]
adc_6447 = [2872, 9890]
adc_6448 = [5249]
adc_6449 = [8860]
adc_6450 = [4218, 9353]

samples_by_count = {
    6390: adc_6390, 6391: adc_6391, 6392: adc_6392, 6393: adc_6393, 6394: adc_6394,
    6395: adc_6395, 6396: adc_6396, 6397: adc_6397, 6398: adc_6398, 6399: adc_6399,
    6400: adc_6400, 6401: adc_6401, 6402: adc_6402, 6403: adc_6403, 6404: adc_6404,
    6405: adc_6405, 6406: adc_6406, 6407: adc_6407, 6408: adc_6408, 6409: adc_6409,
    6410: adc_6410, 6411: adc_6411, 6412: adc_6412, 6413: adc_6413, 6414: adc_6414,
    6415: adc_6415, 6416: adc_6416, 6417: adc_6417, 6418: adc_6418, 6419: adc_6419,
    6420: adc_6420, 6421: adc_6421, 6422: adc_6422, 6423: adc_6423, 6424: adc_6424,
    6425: adc_6425, 6426: adc_6426, 6427: adc_6427, 6428: adc_6428, 6429: adc_6429,
    6430: adc_6430, 6431: adc_6431, 6432: adc_6432, 6433: adc_6433, 6434: adc_6434,
    6435: adc_6435, 6436: adc_6436, 6437: adc_6437, 6438: adc_6438, 6439: adc_6439,
    6440: adc_6440, 6441: adc_6441, 6442: adc_6442, 6443: adc_6443, 6444: adc_6444,
    6445: adc_6445, 6446: adc_6446, 6447: adc_6447, 6448: adc_6448, 6449: adc_6449,
    6450: adc_6450,
}

mean_counts = 6420.37
std_counts = 7.88

xs = []
ys = []
for count, samples in samples_by_count.items():
    xs.extend(samples)
    ys.extend([count] * len(samples))

fig, ax = plt.subplots(figsize=(10, 10), dpi=100)
ax.plot(xs, ys, "k.", label=f"Samples\n$\\mu$ = {mean_counts:.2f}, $\\sigma$ = {std_counts:.2f}")
ax.set_xlim(-500, 10499)
ax.set_title("Run 657, channel049, Pedestal")
ax.set_xlabel("Sample #")
ax.set_ylabel("ADC Counts")
ax.grid(True)
ax.legend(loc="upper right")
fig.tight_layout()
# axes top sits a little higher in the original
fig.subplots_adjust(top=0.965)
fig.savefig("out.png")
